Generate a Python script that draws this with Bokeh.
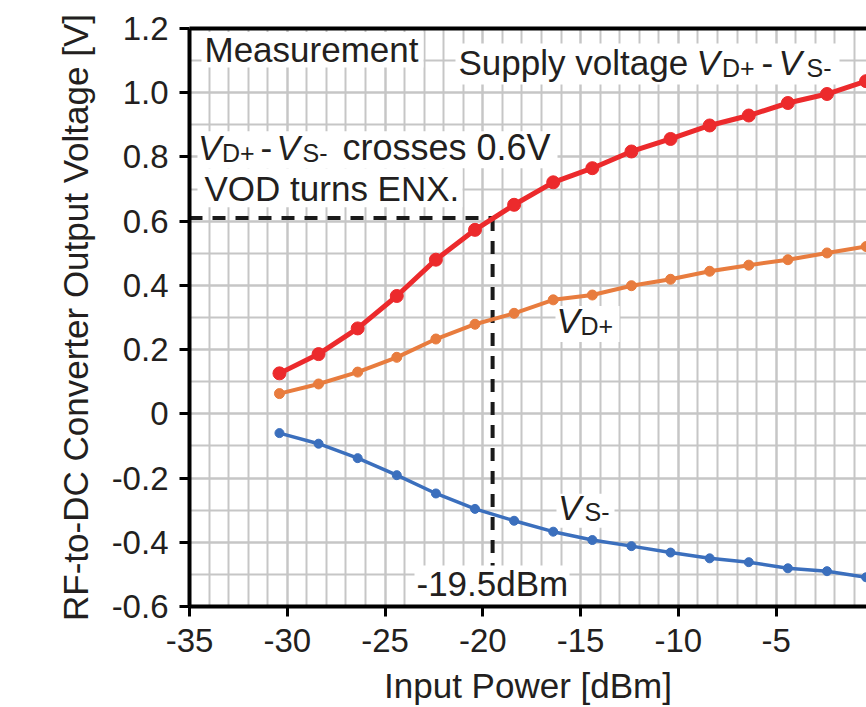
from bokeh.plotting import figure
from bokeh.models import (FixedTicker, CustomJSTickFormatter, ColumnDataSource,
                          Range1d, LinearAxis)
from bokeh.core.properties import value, field
from bokeh.embed import file_html
from bokeh.resources import INLINE

# ---------------- data ----------------
input_power_dbm = [-30.4, -28.4, -26.4, -24.4, -22.4, -20.4, -18.4, -16.4,
                   -14.4, -12.4, -10.4, -8.4, -6.4, -4.4, -2.4, -0.4]
supply_voltage = [0.126, 0.186, 0.266, 0.367, 0.480, 0.573, 0.651, 0.721,
                  0.765, 0.817, 0.856, 0.898, 0.929, 0.968, 0.996, 1.036]
vd_plus = [0.063, 0.093, 0.130, 0.176, 0.233, 0.279, 0.313, 0.355,
           0.370, 0.399, 0.419, 0.444, 0.463, 0.480, 0.501, 0.521]
vs_minus = [-0.060, -0.093, -0.138, -0.191, -0.248, -0.296, -0.333, -0.367,
            -0.393, -0.412, -0.432, -0.450, -0.462, -0.481, -0.490, -0.509]

x_tick_values = [-35, -30, -25, -20, -15, -10, -5, 0]
x_minor_values = list(range(-35, 1))
y_tick_values = [-0.6, -0.4, -0.2, 0.0, 0.2, 0.4, 0.6, 0.8, 1.0, 1.2]
y_minor_values = [round(-0.6 + 0.1 * i, 1) for i in range(19)]

crossing_power_dbm = -19.5
crossing_voltage = 0.61

# ---------------- layout ----------------
W, H = 866, 707
FL, FT, FB = 189, 28, 607
X0, X1 = -35.0, -0.38
Y0, Y1 = -0.6, 1.2
FONT = "Liberation Sans"
TXT = "#231f20"


def dx(px):
    return X0 + (px - FL) * (X1 - X0) / (W - FL)


def dy(py):
    return Y1 - (py - FT) * (Y1 - Y0) / (FB - FT)


p = figure(width=W, height=H, x_range=Range1d(X0, X1), y_range=Range1d(Y0, Y1),
           output_backend="svg", toolbar_location=None,
           min_border_left=FL, min_border_right=0, min_border_top=FT,
           min_border_bottom=H - FB)
p.outline_line_color = None
p.background_fill_color = "white"
p.border_fill_color = "white"

# axes
xa = p.xaxis[0]
ya = p.yaxis[0]
xa.ticker = FixedTicker(ticks=x_tick_values, minor_ticks=x_minor_values)
ya.ticker = FixedTicker(ticks=y_tick_values, minor_ticks=y_minor_values)
xa.formatter = CustomJSTickFormatter(code="return tick.toFixed(0);")
ya.formatter = CustomJSTickFormatter(
    code="return Math.abs(tick) < 1e-9 ? '0' : tick.toFixed(1);")
for ax in (xa, ya):
    ax.axis_line_width = 4
    ax.axis_line_color = "black"
    ax.major_tick_line_width = 3
    ax.major_tick_line_color = "black"
    ax.major_tick_out = 10
    ax.major_tick_in = 0
    ax.minor_tick_line_color = None
    ax.major_label_text_font = FONT
    ax.major_label_text_font_size = "33px"
    ax.major_label_text_color = TXT
    ax.axis_label_text_font = FONT
    ax.axis_label_text_font_size = "35px"
    ax.axis_label_text_font_style = "normal"
    ax.axis_label_text_color = TXT
xa.major_label_standoff = 12
ya.major_label_standoff = 11
xa.axis_label = "Input Power [dBm]"
ya.axis_label = "RF-to-DC Converter Output Voltage [V]"
xa.axis_label_standoff = 11
ya.axis_label_standoff = 14

top = LinearAxis(ticker=FixedTicker(ticks=[]), axis_line_width=4,
                 axis_line_color="black", major_tick_line_color=None,
                 minor_tick_line_color=None, major_label_text_font_size="0px")
p.add_layout(top, "above")

for g in (p.xgrid[0], p.ygrid[0]):
    g.grid_line_color = "#c6c6c6"
    g.grid_line_width = 2
    g.minor_grid_line_color = "#c6c6c6"
    g.minor_grid_line_width = 2

# dashed guide lines
p.segment(x0=[X0, crossing_power_dbm], y0=[crossing_voltage, crossing_voltage],
          x1=[crossing_power_dbm, crossing_power_dbm], y1=[crossing_voltage, Y0],
          line_color="#1a1a1a", line_width=4, line_dash="13 10")

# white label boxes (pixel rectangles -> data)
boxes = [(201, 423, 31.5, 67), (455, 839, 43, 84), (197, 557, 131, 168),
         (197, 462, 168, 207), (555, 619, 306, 342), (556, 614, 494, 528),
         (414, 569, 566, 606)]
p.quad(left=[dx(b[0]) for b in boxes], right=[dx(b[1]) for b in boxes],
       top=[dy(b[2]) for b in boxes], bottom=[dy(b[3]) for b in boxes],
       fill_color="white", line_color=None)

# text pieces: (left px, baseline px, text, font px, style)
pieces = [
    (204, 63, "Measurement", 35, "normal"),
    (458, 76.5, "Supply voltage", 35, "normal"),
    (696, 76.5, "V", 35, "italic"),
    (721.5, 77.5, "D+", 25, "normal"),
    (761, 76.5, "-", 35, "normal"),
    (778, 76.5, "V", 35, "italic"),
    (806, 77.5, "S-", 25, "normal"),
    (197.5, 161.3, "V", 35, "italic"),
    (221.5, 162.5, "D+", 25, "normal"),
    (260, 161.3, "-", 35, "normal"),
    (276, 161.3, "V", 35, "italic"),
    (302, 162.5, "S-", 25, "normal"),
    (342, 161.3, "crosses 0.6V", 36, "normal"),
    (204, 202.5, "VOD turns ENX.", 35, "normal"),
    (556, 335, "V", 35, "italic"),
    (580, 336.2, "D+", 25, "normal"),
    (557.5, 521.5, "V", 35, "italic"),
    (584, 522.7, "S-", 25, "normal"),
    (416, 598, "-19.5dBm", 35, "normal"),
]
tsrc = ColumnDataSource(dict(
    x=[dx(a[0]) for a in pieces],
    y=[dy(a[1] - 0.4 * a[3]) for a in pieces],
    text=[a[2] for a in pieces], size=["%dpx" % a[3] for a in pieces],
    style=[a[4] for a in pieces]))
p.text(x="x", y="y", text="text", source=tsrc, text_font=value(FONT),
       text_font_size=field("size"), text_font_style=field("style"),
       text_baseline="alphabetic", text_align="left", text_color=TXT)

# data series
series = [(vd_plus, "#e87c3e", 4, 10), (vs_minus, "#3b6fbd", 3.5, 9),
          (supply_voltage, "#ec2a2c", 5, 13)]
for ys, col, lw, ms in series:
    p.line(input_power_dbm, ys, line_color=col, line_width=lw)
    p.scatter(input_power_dbm, ys, size=ms, fill_color=col, line_color=col)

open("out.html", "w").write(file_html(p, INLINE))
